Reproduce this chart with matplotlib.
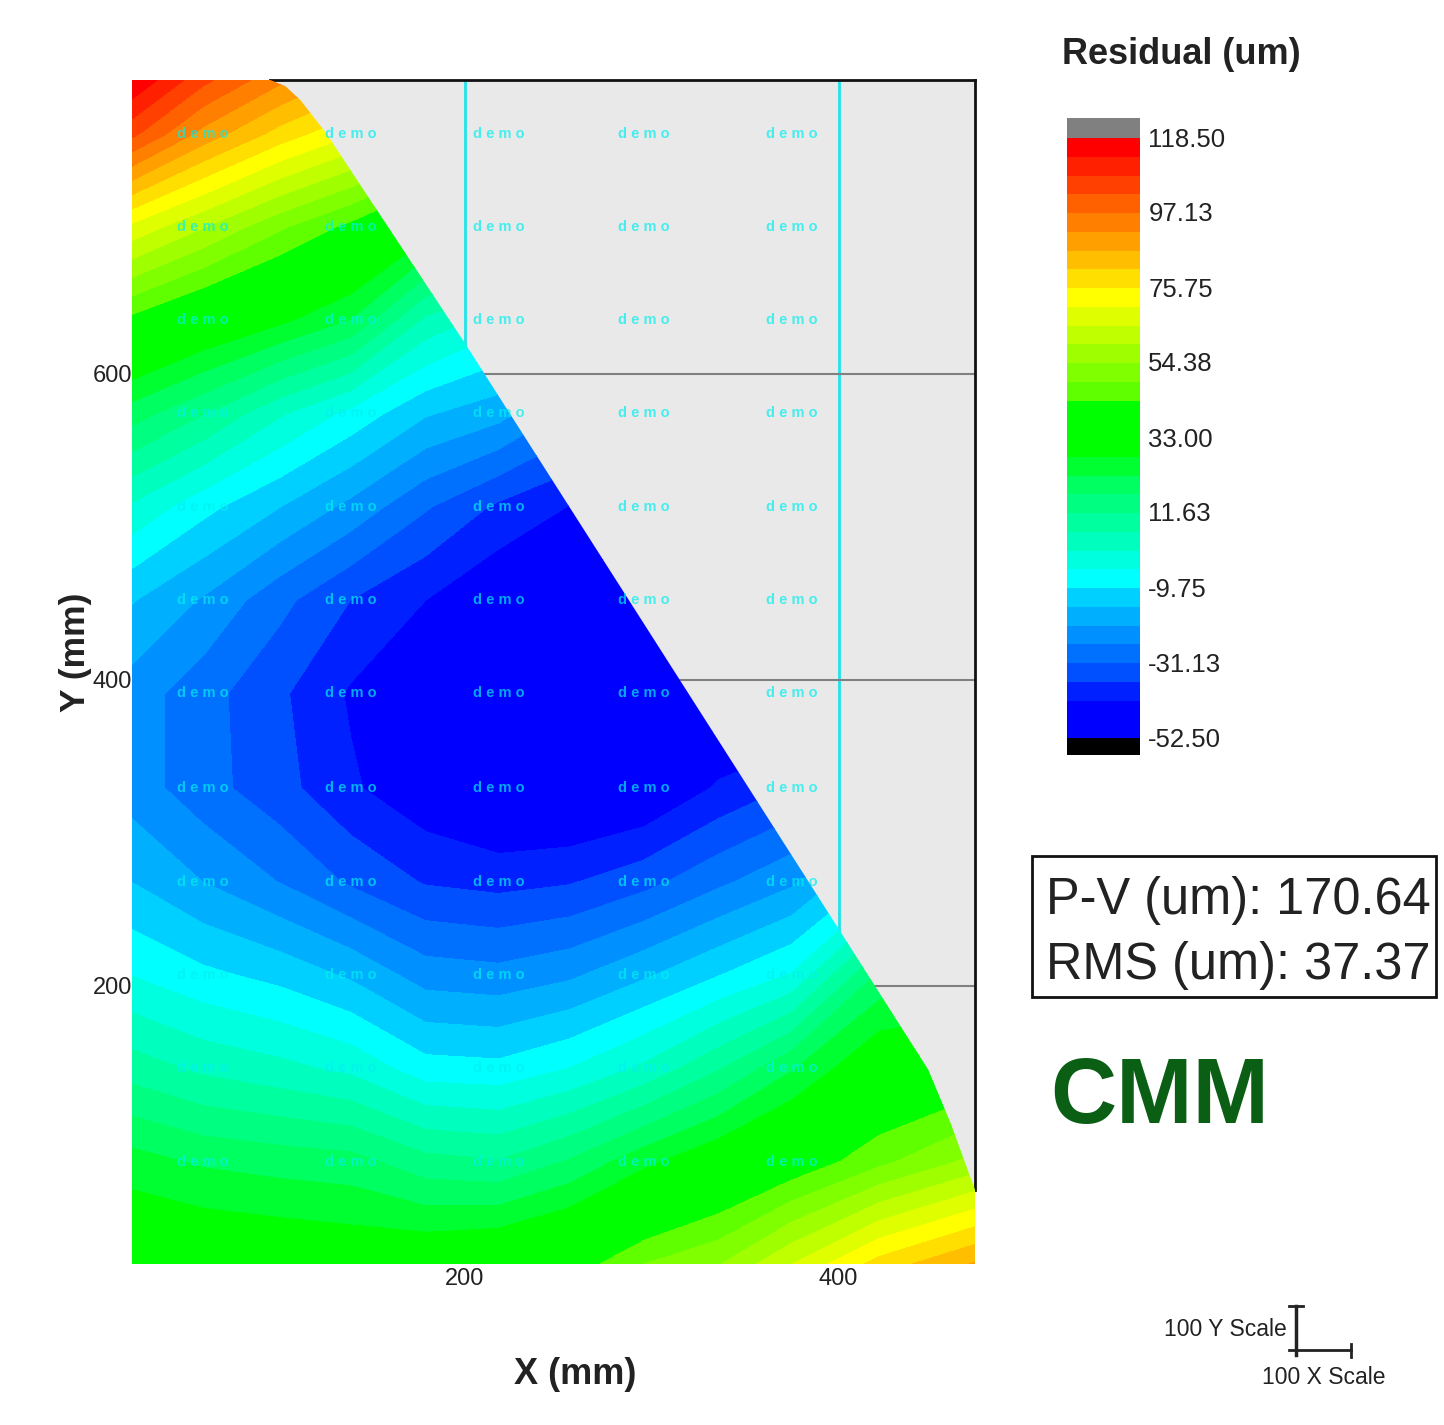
import numpy as np
import matplotlib
matplotlib.use("Agg")
import matplotlib.pyplot as plt
from matplotlib.colors import ListedColormap, BoundaryNorm
from matplotlib.patches import Polygon, Rectangle
from matplotlib.transforms import ScaledTranslation

plt.rcParams["font.family"] = ["Liberation Sans", "DejaVu Sans"]

# residual surface (um), rows top to bottom
x_mm = [22, 60, 101, 139, 179, 218, 256, 296, 336, 375, 422, 473]
y_mm = [792, 757, 696, 635, 574, 513, 452, 391, 329, 268, 207, 146, 85, 18]
residual = [
    [118, 104, 93, 85, 76, 68, 60, 52, 45, 40, 35, 30],
    [104, 90, 79, 71, 62, 52, 42, 35, 30, 25, 20, 15],
    [69, 60, 50, 42, 31, 25, 12, 8, 5, 2, 0, -2],
    [42, 35, 29, 22, 5, -2, -8, -12, -14, -15, -15, -15],
    [19.5, 12, 1.7, -6, -14.5, -18.5, -27, -30, -32, -33, -33, -33],
    [0, -8, -15, -22, -30.5, -37.5, -42, -45, -45, -45, -45, -45],
    [-14.7, -21, -29.5, -36.5, -41.8, -47, -49, -51, -50, -50, -48, -45],
    [-23, -29, -35.5, -42.5, -46.5, -50, -52, -52, -50, -50, -45, -40],
    [-23, -29, -34.5, -41, -46, -50, -50, -48, -41, -36, -30, -25],
    [-15.2, -20.5, -26, -32, -37, -38.3, -37, -33, -27, -21.5, -8, 3],
    [-4.6, -8.5, -11.5, -16, -23, -24, -21.5, -16, -10, -4, 18, 20],
    [9, 5, 2.5, -0.5, -7.5, -8.2, -4.4, 2, 11, 21.7, 34, 38],
    [24.5, 21.5, 20, 19, 13.5, 12, 17.5, 26, 33, 39, 47.5, 56],
    [36, 35, 34, 33, 34, 36, 40, 49, 54, 65, 78, 87],
]

# outline of the measured part
part_x = [22, 96, 104, 112, 126, 200.6, 400.6, 448, 460, 473, 473, 22]
part_y = [792, 792, 788, 779, 757, 619, 236, 145, 110, 66.5, 18, 18]

# colour bands, bottom to top
band_colors = ["#0000ff", "#0000ff", "#0020ff", "#0050ff", "#0070ff", "#0090ff", "#00b0ff", "#00d0ff",
               "#00ffff", "#00ffdf", "#00ffbf", "#00ff9f", "#00ff80", "#00ff60", "#00ff30", "#00ff00",
               "#00ff00", "#00ff00", "#5fff00", "#7fff00", "#9fff00", "#bfff00", "#dfff00", "#ffff00",
               "#ffdf00", "#ffbf00", "#ff9f00", "#ff7f00", "#ff6000", "#ff4000", "#ff2000", "#ff0000"]
bar_ticks = [-52.50, -31.13, -9.75, 11.63, 33.00, 54.38, 75.75, 97.13, 118.50]
bar_labels = ["-52.50", "-31.13", "-9.75", "11.63", "33.00", "54.38", "75.75", "97.13", "118.50"]

demo_x = [60, 139, 218, 296, 375]
demo_y = [757, 696, 635, 574, 513, 452, 391, 329, 268, 207, 146, 85]

W, H = 1444, 1425


def px_axes(fig, left, top, right, bottom):
    return fig.add_axes([left / W, 1 - bottom / H, (right - left) / W, (bottom - top) / H])


fig = plt.figure(figsize=(W / 100, H / 100), dpi=100, facecolor="white")

# ---- contour map ----
ax = px_axes(fig, 132, 80, 975, 1264)
ax.set_facecolor("#e9e9e9")
levels = np.linspace(-52.5, 118.5, len(band_colors) + 1)
cmap = ListedColormap(band_colors)
norm = BoundaryNorm(levels, cmap.N)
cs = ax.contourf(x_mm, y_mm, np.array(residual), levels=levels, cmap=cmap, norm=norm, zorder=3)
clip = Polygon(np.column_stack([part_x, part_y]), closed=True, transform=ax.transData)
cs.set_clip_path(clip)
ax.set_xlim(22, 473)
ax.set_ylim(18, 792)
ax.set_xticks([200, 400])
ax.set_yticks([200, 400, 600])
ax.tick_params(length=0, labelsize=17, labelcolor="#222222")
ax.tick_params(axis="x", pad=3)
ax.tick_params(axis="y", pad=0)
ax.set_axisbelow(True)
ax.grid(axis="x", color="#20e4e8", lw=2)
ax.grid(axis="y", color="#808080", lw=1.5)
for s in ("top", "right"):
    ax.spines[s].set_linewidth(2)
    ax.spines[s].set_color("#111111")
ax.spines["top"].set_bounds(96, 473)
ax.spines["right"].set_bounds(66.5, 792)
ax.spines["left"].set_visible(False)
ax.spines["bottom"].set_visible(False)
for dx in demo_x:
    for dy in demo_y:
        ax.text(dx, dy, "d e m o", color="#00f0f0", fontsize=10.5, fontweight="bold", ha="center",
                va="center", alpha=0.7, zorder=5)

# ---- colour bar ----
cax = px_axes(fig, 1067, 118, 1140, 755)
cax.pcolormesh([0, 1], levels, np.arange(len(band_colors)).reshape(-1, 1), cmap=cmap,
               norm=BoundaryNorm(np.arange(len(band_colors) + 1) - 0.5, cmap.N))
cax.set_xlim(0, 1)
cax.set_ylim(-57.34, 124.2)
cax.add_patch(Rectangle((0, 118.5), 1, 5.7, color="#808080", lw=0))
cax.add_patch(Rectangle((0, -57.34), 1, 4.84, color="#000000", lw=0))
cax.set_xticks([])
cax.set_yticks(bar_ticks)
cax.set_yticklabels(bar_labels)
cax.yaxis.tick_right()
cax.tick_params(length=0, labelsize=18.5, pad=6, labelcolor="#222222")
for lab in cax.get_yticklabels():
    lab.set_transform(lab.get_transform() + ScaledTranslation(0, 1.0 / 100, fig.dpi_scale_trans))
for s in cax.spines.values():
    s.set_visible(False)

# ---- overlay in pixels for labels and scale ----
ov = fig.add_axes([0, 0, 1, 1], facecolor="none")
ov.set_xlim(0, W)
ov.set_ylim(H, 0)
ov.axis("off")
ov.text(1181, 54, "Residual (um)", fontsize=26, fontweight="bold", ha="center", va="center", color="#222222")
ov.text(575, 1374, "X (mm)", fontsize=26, fontweight="bold", ha="center", va="center", color="#222222")
ov.text(76, 652, "Y (mm)", fontsize=25.5, fontweight="bold", ha="center", va="center", rotation=90, color="#222222")
ov.add_patch(Rectangle((1032, 856), 404, 141, fill=False, ec="#111111", lw=2))
ov.text(1046, 900, "P-V (um): 170.64", fontsize=36.4, ha="left", va="center", color="#222222")
ov.text(1046, 965, "RMS (um): 37.37", fontsize=36.4, ha="left", va="center", color="#222222")
ov.text(1160, 1099, "CMM", fontsize=66, fontweight="bold", ha="center", va="center", color="#0b5f15")
ov.text(1287, 1329, "100 Y Scale", fontsize=16.5, ha="right", va="center", color="#222222")
ov.text(1324, 1377, "100 X Scale", fontsize=16.5, ha="center", va="center", color="#222222")
ov.plot([1296, 1296], [1306, 1355], color="#222222", lw=2.5)
ov.plot([1289, 1303], [1306, 1306], color="#222222", lw=2)
ov.plot([1289, 1351], [1350, 1350], color="#222222", lw=2)
ov.plot([1351, 1351], [1344, 1357], color="#222222", lw=2)

fig.savefig("out.png", dpi=100)
